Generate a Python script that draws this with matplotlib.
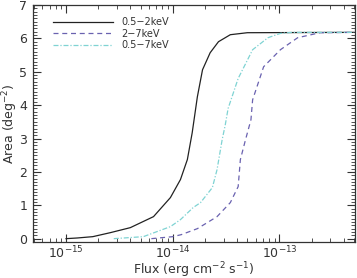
import numpy as np
import matplotlib
matplotlib.use("Agg")
import matplotlib.pyplot as plt
from matplotlib.ticker import MultipleLocator, FixedLocator, NullFormatter, LogFormatterMathtext

soft_flux = [1.0e-15, 1.27e-15, 1.78e-15, 2.6e-15, 4.0e-15, 6.6e-15, 9.5e-15, 1.18e-14, 1.37e-14,
             1.52e-14, 1.7e-14, 1.9e-14, 2.24e-14, 2.68e-14, 3.46e-14, 5.0e-14, 5.0e-13]
soft_area = [0.0, 0.02, 0.06, 0.18, 0.33, 0.66, 1.23, 1.77, 2.37,
             3.17, 4.25, 5.06, 5.57, 5.9, 6.11, 6.17, 6.18]

hard_flux = [6.3e-15, 1.0e-14, 1.2e-14, 1.7e-14, 2.6e-14, 3.46e-14, 4.1e-14, 4.3e-14, 4.8e-14,
             5.4e-14, 5.6e-14, 7.1e-14, 1.02e-13, 1.48e-13, 2.4e-13, 5.0e-13]
hard_area = [0.0, 0.06, 0.12, 0.3, 0.66, 1.08, 1.56, 2.37, 2.96,
             3.56, 4.16, 5.15, 5.66, 6.02, 6.17, 6.18]

full_flux = [2.8e-15, 5.3e-15, 9.5e-15, 1.18e-14, 1.55e-14, 1.82e-14, 2.35e-14, 2.6e-14, 2.9e-14,
             3.1e-14, 3.3e-14, 4.1e-14, 5.6e-14, 7.8e-14, 1.02e-13, 1.3e-13, 5.0e-13]
full_area = [0.0, 0.06, 0.36, 0.57, 0.93, 1.08, 1.53, 2.07, 2.96,
             3.4, 3.9, 4.8, 5.66, 6.02, 6.15, 6.18, 6.18]

x_major = [1e-15, 1e-14, 1e-13]
labels = ["0.5\u22122keV", "2\u22127keV", "0.5\u22127keV"]

plt.rcParams['font.family'] = ['DejaVu Sans']
plt.rcParams['mathtext.fontset'] = 'dejavusans'
fig = plt.figure(figsize=(3.57, 2.78), dpi=100)
ax = fig.add_axes([33/357, 1-242/278, (355-33)/357, (242-5)/278])

ax.plot(soft_flux, soft_area, color='#222222', lw=0.9, ls='-', label=labels[0])
ax.plot(hard_flux, hard_area, color='#6a62b0', lw=0.9, ls=(0, (4, 3)), label=labels[1])
ax.plot(full_flux, full_area, color='#7fd3d3', lw=0.9, ls=(0, (4, 1.5, 1, 1.5)), label=labels[2])

ax.set_xscale('log')
ax.set_xlim(4.9e-16, 5.1e-13)
ax.set_ylim(-0.1, 7)
ax.yaxis.set_major_locator(MultipleLocator(1))
ax.yaxis.set_minor_locator(MultipleLocator(0.1))
ax.xaxis.set_major_locator(FixedLocator(x_major))
ax.xaxis.set_major_formatter(LogFormatterMathtext())
minor = [m * d for d in [1e-16, 1e-15, 1e-14, 1e-13] for m in range(2, 10)
         if 4.9e-16 < m * d < 5.1e-13]
ax.xaxis.set_minor_locator(FixedLocator(minor))
ax.xaxis.set_minor_formatter(NullFormatter())
ax.tick_params(which='both', direction='in', top=True, right=True, color='#333333')
ax.tick_params(which='major', length=6, width=0.8, labelsize=9, labelcolor='#333333')
ax.tick_params(axis='x', which='major', pad=2)
ax.tick_params(axis='y', which='major', pad=4)
ax.tick_params(which='minor', length=3, width=0.6)
for s in ax.spines.values():
    s.set_linewidth(0.9)
    s.set_color('#333333')

ax.set_xlabel("Flux (erg cm$^{-2}$ s$^{-1}$)", fontsize=9, color='#333333')
ax.set_ylabel("Area (deg$^{-2}$)", fontsize=9, color='#333333')
ax.xaxis.set_label_coords(0.5, (242 - 260) / 237)
ax.yaxis.set_label_coords((20 - 33) / 322, 0.5)

leg = ax.legend(loc='upper left', bbox_to_anchor=(0.05, 0.965), frameon=False, fontsize=7,
                handlelength=6.2, handletextpad=0.8, labelspacing=0.15, borderaxespad=0)
for t in leg.get_texts():
    t.set_color('#333333')

fig.savefig("out.png", dpi=100)
